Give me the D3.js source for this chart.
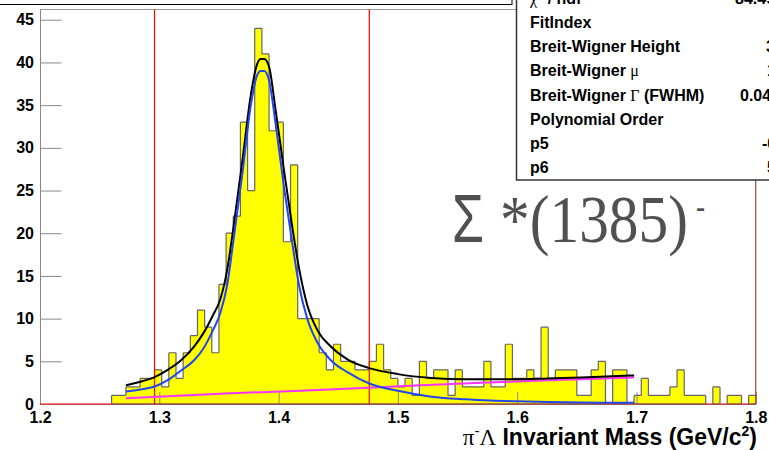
<!DOCTYPE html>
<html>
<head>
<meta charset="utf-8">
<script src="https://cdn.jsdelivr.net/npm/d3@7"></script>
<style>
  html, body { margin: 0; padding: 0; background: #fff; }
  svg { display: block; }
  .axis text { font-family: 'Liberation Sans', Arial, sans-serif; font-weight: bold; font-size: 16px; fill: #000; }
  .axis path, .axis line { stroke: #888; }
  .stat { font-family: 'Liberation Sans', Arial, sans-serif; font-weight: bold; font-size: 16px; fill: #000; }
</style>
</head>
<body>
<div id="container"></div>
<script>
// pi- Lambda invariant mass, 100 bins of 6 MeV between 1.2 and 1.8 GeV/c^2
const binLow = 1.2;
const binWidth = 0.006;
const counts = [
  0, 0, 0, 0, 0, 0, 0, 0, 0, 0,
  1, 1, 2, 2, 3, 3, 4, 2, 6, 3,
  6, 8, 11, 9, 6, 14, 20, 22, 33, 25,
  44, 41, 32, 33, 19, 28, 10, 10, 10, 6,
  4, 7, 5, 5, 4, 4, 5, 7, 4, 3,
  2, 3, 1, 5, 3, 4, 4, 1, 4, 2,
  2, 2, 5, 2, 2, 7, 3, 3, 4, 3,
  9, 3, 4, 4, 4, 1, 1, 4, 5, 0,
  4, 4, 0, 1, 3, 1, 1, 1, 2, 4,
  1, 1, 1, 0, 2, 0, 1, 1, 0, 1
];

// fit curves over the fit range
const fitMass = [1.272, 1.284, 1.296, 1.307, 1.318, 1.329, 1.337, 1.345, 1.351, 1.357,
  1.362, 1.370, 1.3765, 1.382, 1.385, 1.388, 1.392, 1.3975, 1.4045, 1.4115,
  1.417, 1.424, 1.4325, 1.444, 1.458, 1.476, 1.500, 1.528, 1.556, 1.578,
  1.600, 1.626, 1.654, 1.698];
const totalFit = [2.2, 2.6, 3.15, 4.0, 5.1, 6.7, 8.3, 10.4, 12.2, 15.8,
  20.5, 28.9, 36.0, 39.8, 40.4, 40.4, 39.5, 34.4, 27.4, 20.7,
  16.0, 11.6, 8.65, 6.7, 5.2, 4.2, 3.5, 3.05, 2.9, 2.9,
  2.9, 3.0, 3.1, 3.35];
const breitWigner = [1.45, 1.7, 2.05, 2.8, 3.9, 5.1, 6.5, 8.65, 10.6, 14.0,
  19.0, 27.4, 34.8, 38.5, 39.0, 39.0, 37.9, 32.8, 25.4, 18.8,
  14.0, 10.0, 7.2, 5.1, 3.7, 2.4, 1.55, 0.86, 0.55, 0.4,
  0.31, 0.23, 0.17, 0.15];
const bkgMass = [1.272, 1.36, 1.4185, 1.4756, 1.5697, 1.6538, 1.698];
const background = [0.66, 1.25, 1.56, 1.9, 2.5, 2.9, 3.1];

// mass window cuts
const cuts = [1.296, 1.476];

const xTicks = [1.2, 1.3, 1.4, 1.5, 1.6, 1.7, 1.8];
const yTicks = [0, 5, 10, 15, 20, 25, 30, 35, 40, 45];

const statNames = ['FitIndex', 'Breit-Wigner Height', 'Breit-Wigner μ', 'Breit-Wigner Γ (FWHM)',
  'Polynomial Order', 'p5', 'p6'];
const statValues = ['0', '38.8 ± 4.3', '1.386 ± 0.002', '0.0489 ± 0.0061', '2', '-0.53 ± 2.71', '5.21 ± 1.86'];
const chi2Value = '84.49 / 76';

const svg = d3.select('#container').append('svg')
  .attr('width', 769)
  .attr('height', 450);

const x = d3.scaleLinear().domain([1.2, 1.8]).range([40, 755.8]);
const y = d3.scaleLinear().domain([0, 46.2]).range([404, 9.5]);

// title pad (only its lower edge is on screen)
svg.append('rect')
  .attr('x', -2).attr('y', -20)
  .attr('width', 514).attr('height', 24.5)
  .attr('fill', '#fff').attr('stroke', '#000').attr('stroke-width', 1);

// frame
svg.append('line')
  .attr('x1', x(1.2)).attr('x2', x(1.8))
  .attr('y1', y.range()[1]).attr('y2', y.range()[1])
  .attr('stroke', '#999');

// histogram fill
const binEdges = counts.map((c, i) => [binLow + i * binWidth, c]);
binEdges.push([binLow + counts.length * binWidth, counts[counts.length - 1]]);

svg.append('path')
  .datum(binEdges)
  .attr('fill', '#ffff00')
  .attr('d', d3.area()
    .x(d => x(d[0]))
    .y0(y(0))
    .y1(d => y(d[1]))
    .curve(d3.curveStepAfter));

// axes
const xAxis = svg.append('g')
  .attr('class', 'axis')
  .attr('transform', `translate(0, ${y(0)})`);
xAxis.call(d3.axisBottom(x)
  .tickValues(d3.range(0, 31).map(i => 1.2 + i * 0.02))
  .tickSizeInner(-6).tickSizeOuter(0).tickFormat(''));
xAxis.call(d3.axisBottom(x)
  .tickValues(xTicks)
  .tickSizeInner(-11.8).tickSizeOuter(0).tickPadding(7.5)
  .tickFormat(d3.format('.1f')));

const yAxis = svg.append('g')
  .attr('class', 'axis')
  .attr('transform', `translate(${x(1.2)}, 0)`);
yAxis.call(d3.axisLeft(y)
  .tickValues(d3.range(0, 47))
  .tickSizeInner(-10.7).tickSizeOuter(0).tickFormat(''));
yAxis.call(d3.axisLeft(y)
  .tickValues(yTicks)
  .tickSizeInner(-21.5).tickSizeOuter(0).tickPadding(6));

svg.selectAll('.axis .domain').attr('stroke', '#888');

// empty-bin baseline
svg.append('line')
  .attr('x1', x(1.2)).attr('x2', x(1.8))
  .attr('y1', y(0)).attr('y2', y(0))
  .attr('stroke', '#ff0000');

// histogram outline
let outline = '';
counts.forEach((c, i) => {
  const x0 = x(binLow + i * binWidth);
  const x1 = x(binLow + (i + 1) * binWidth);
  const prev = i > 0 ? counts[i - 1] : 0;
  if (c > 0) outline += `M${x0},${y(c)}H${x1}M${x0},${y(0)}H${x1}`;
  if (c !== prev) outline += `M${x0},${y(prev)}V${y(c)}`;
});
svg.append('path')
  .attr('d', outline)
  .attr('fill', 'none')
  .attr('stroke', '#666')
  .attr('stroke-width', 1.2);

// right frame edge
svg.append('line')
  .attr('x1', x(1.8)).attr('x2', x(1.8))
  .attr('y1', y.range()[1]).attr('y2', y(0))
  .attr('stroke', '#9a1a1a');

// mass window
svg.selectAll('.cut')
  .data(cuts)
  .enter()
  .append('line')
  .attr('class', 'cut')
  .attr('x1', d => x(d)).attr('x2', d => x(d))
  .attr('y1', y.range()[1]).attr('y2', y(0))
  .attr('stroke', '#ff0000')
  .attr('stroke-width', 1.2);

// fits
const fitLine = d3.line()
  .x(d => x(d[0]))
  .y(d => y(d[1]))
  .curve(d3.curveMonotoneX);

svg.append('path')
  .datum(d3.zip(bkgMass, background))
  .attr('d', fitLine)
  .attr('fill', 'none').attr('stroke', '#ff33ff').attr('stroke-width', 2);

svg.append('path')
  .datum(d3.zip(fitMass, totalFit))
  .attr('d', fitLine)
  .attr('fill', 'none').attr('stroke', '#000').attr('stroke-width', 2);

svg.append('path')
  .datum(d3.zip(fitMass, breitWigner))
  .attr('d', fitLine)
  .attr('fill', 'none').attr('stroke', '#2146f0').attr('stroke-width', 2);

// x axis title
const xTitle = svg.append('text')
  .attr('x', 757).attr('y', 445)
  .attr('text-anchor', 'end')
  .attr('font-family', "'Liberation Sans', Arial, sans-serif")
  .attr('font-weight', 'bold')
  .attr('font-size', 23);
xTitle.append('tspan').attr('font-family', "'Liberation Serif', serif").attr('font-weight', 'normal').text('π');
xTitle.append('tspan').attr('font-size', 15).attr('font-weight', 'normal').attr('dy', -9).text('-');
xTitle.append('tspan').attr('font-family', "'Liberation Serif', serif").attr('font-weight', 'normal').attr('dy', 9).text('Λ');
xTitle.append('tspan').text(' Invariant Mass (GeV/c');
xTitle.append('tspan').attr('font-size', 14).attr('dy', -9).text('2');
xTitle.append('tspan').attr('dy', 9).text(')');

// fit statistics pad
svg.append('rect')
  .attr('x', 516.5).attr('y', -20)
  .attr('width', 400).attr('height', 200)
  .attr('fill', '#fff').attr('stroke', '#333').attr('stroke-width', 1.5);

const chi2 = svg.append('text').attr('class', 'stat').attr('x', 530).attr('y', 3.5);
chi2.append('tspan').attr('font-family', "'Liberation Serif', serif").attr('font-weight', 'normal').text('χ');
chi2.append('tspan').attr('font-size', 11).attr('dy', -6).text('2');
chi2.append('tspan').attr('dy', 6).text(' / ndf');
svg.append('text').attr('class', 'stat').attr('x', 735).attr('y', 3.5).text(chi2Value);

const statValueX = [800, 766, 767, 740, 800, 762, 767];
statNames.forEach((name, i) => {
  const t = svg.append('text').attr('class', 'stat')
    .attr('x', 530).attr('y', 28 + i * 24.2);
  const greek = name.match(/[μΓ]/);
  if (greek) {
    const [head, tail] = name.split(greek[0]);
    t.append('tspan').text(head);
    t.append('tspan').attr('font-family', "'Liberation Serif', serif").attr('font-weight', 'normal').text(greek[0]);
    t.append('tspan').text(tail);
  } else {
    t.text(name);
  }
  svg.append('text').attr('class', 'stat')
    .attr('x', statValueX[i]).attr('y', 28 + i * 24.2)
    .text(statValues[i]);
});

// resonance label
const label = svg.append('g').attr('fill', '#505050');
label.append('text')
  .attr('x', 452).attr('y', 241.7)
  .attr('font-family', "'Liberation Sans', Arial, sans-serif")
  .attr('font-size', 68)
  .attr('textLength', 32).attr('lengthAdjust', 'spacingAndGlyphs')
  .text('Σ');
label.append('text')
  .attr('x', 500).attr('y', 241.7)
  .attr('font-family', "'Liberation Serif', serif")
  .attr('font-size', 68)
  .attr('textLength', 188).attr('lengthAdjust', 'spacingAndGlyphs')
  .text('*(1385)');
label.append('text')
  .attr('x', 696).attr('y', 218)
  .attr('font-family', "'Liberation Serif', serif")
  .attr('font-size', 36)
  .attr('textLength', 9).attr('lengthAdjust', 'spacingAndGlyphs')
  .text('-');
</script>
</body>
</html>
